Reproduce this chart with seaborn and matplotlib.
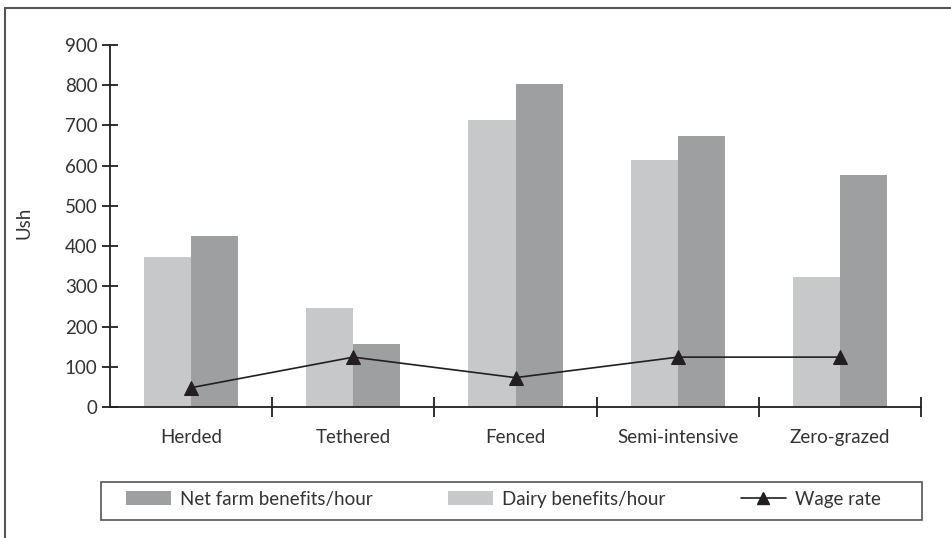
import numpy as np
import pandas as pd
import matplotlib
matplotlib.use("Agg")
import matplotlib.pyplot as plt
from matplotlib.patches import Patch, Rectangle
from matplotlib.lines import Line2D
import seaborn as sns

# data
systems = ["Herded", "Tethered", "Fenced", "Semi-intensive", "Zero-grazed"]
dairy_benefits = [372, 245, 713, 614, 322]
net_farm_benefits = [425, 156, 803, 673, 577]
wage_rate = [48, 124, 73, 124, 124]

sns.set_theme(style="white")
plt.rcParams.update({
    "font.family": ["Lato", "DejaVu Sans"],
    "font.size": 13.5,
    "text.color": "#333333",
    "axes.labelcolor": "#333333",
    "xtick.color": "#333333",
    "ytick.color": "#333333",
})

dairy_col = "#c7c8ca"
net_col = "#9e9fa1"
ink = "#231f20"

df = pd.DataFrame({
    "system": systems * 2,
    "series": ["Dairy benefits/hour"] * 5 + ["Net farm benefits/hour"] * 5,
    "value": dairy_benefits + net_farm_benefits,
})

fig = plt.figure(figsize=(9.51, 5.38), dpi=100)
ax = fig.add_axes([110 / 951, 1 - 407 / 538, 811 / 951, 362 / 538])

sns.barplot(data=df, x="system", y="value", hue="series",
            hue_order=["Dairy benefits/hour", "Net farm benefits/hour"],
            palette=[dairy_col, net_col], width=0.58, gap=0,
            saturation=1, linewidth=0, legend=False, ax=ax)
sns.lineplot(x=np.arange(len(systems)), y=wage_rate, color=ink,
             linewidth=1.2, marker="^", markersize=10, markeredgecolor=ink,
             ax=ax, legend=False)

ax.set_xlim(-0.5, len(systems) - 0.5)
ax.set_ylim(0, 900)
ax.set_yticks(range(0, 901, 100))
ax.set_xlabel("")
ax.set_ylabel("Ush", fontsize=13.5)
ax.yaxis.set_label_coords(-0.095, 0.508)
ax.set_xticks(range(len(systems)))
ax.set_xticklabels(systems, fontsize=13.5)
# category separators, including the right end of the axis
ax.set_xticks(np.arange(0.5, len(systems) - 0.5 + 0.01, 1.0), minor=True)
ax.tick_params(axis="x", which="major", bottom=False, length=0, pad=16)
ax.tick_params(axis="x", which="minor", bottom=True, direction="inout",
               length=14, width=1.3, color=ink)
ax.tick_params(axis="y", left=True, direction="inout", length=12, width=1.3,
               color=ink, pad=3, labelsize=13.5)
for s in ["top", "right"]:
    ax.spines[s].set_visible(False)
for s in ["left", "bottom"]:
    ax.spines[s].set_color(ink)
    ax.spines[s].set_linewidth(1.3)

# figure frame (top and left edges)
fig.add_artist(Line2D([5 / 951, 1.0], [1 - 8 / 538, 1 - 8 / 538], color="#555555", lw=1.5))
fig.add_artist(Line2D([5 / 951, 5 / 951], [0, 1 - 8 / 538], color="#555555", lw=1.5))

# legend box
fig.add_artist(Rectangle((101 / 951, 1 - 520 / 538), 821 / 951, 38 / 538,
                         transform=fig.transFigure, fill=False,
                         edgecolor="#555555", lw=1.2))
handles = [
    Patch(facecolor=net_col, edgecolor="none"),
    Patch(facecolor=dairy_col, edgecolor="none"),
    Line2D([], [], color=ink, lw=1.2, marker="^", markersize=8),
]
labels = ["Net farm benefits/hour", "Dairy benefits/hour", "Wage rate"]
fig.legend(handles, labels, loc="center left", bbox_to_anchor=(126 / 951, 1 - 499 / 538),
           ncol=3, frameon=False, fontsize=13.5, handlelength=2.4, handleheight=0.75,
           columnspacing=4.0, handletextpad=0.5, borderpad=0, borderaxespad=0)

fig.savefig("out.png", dpi=100)
